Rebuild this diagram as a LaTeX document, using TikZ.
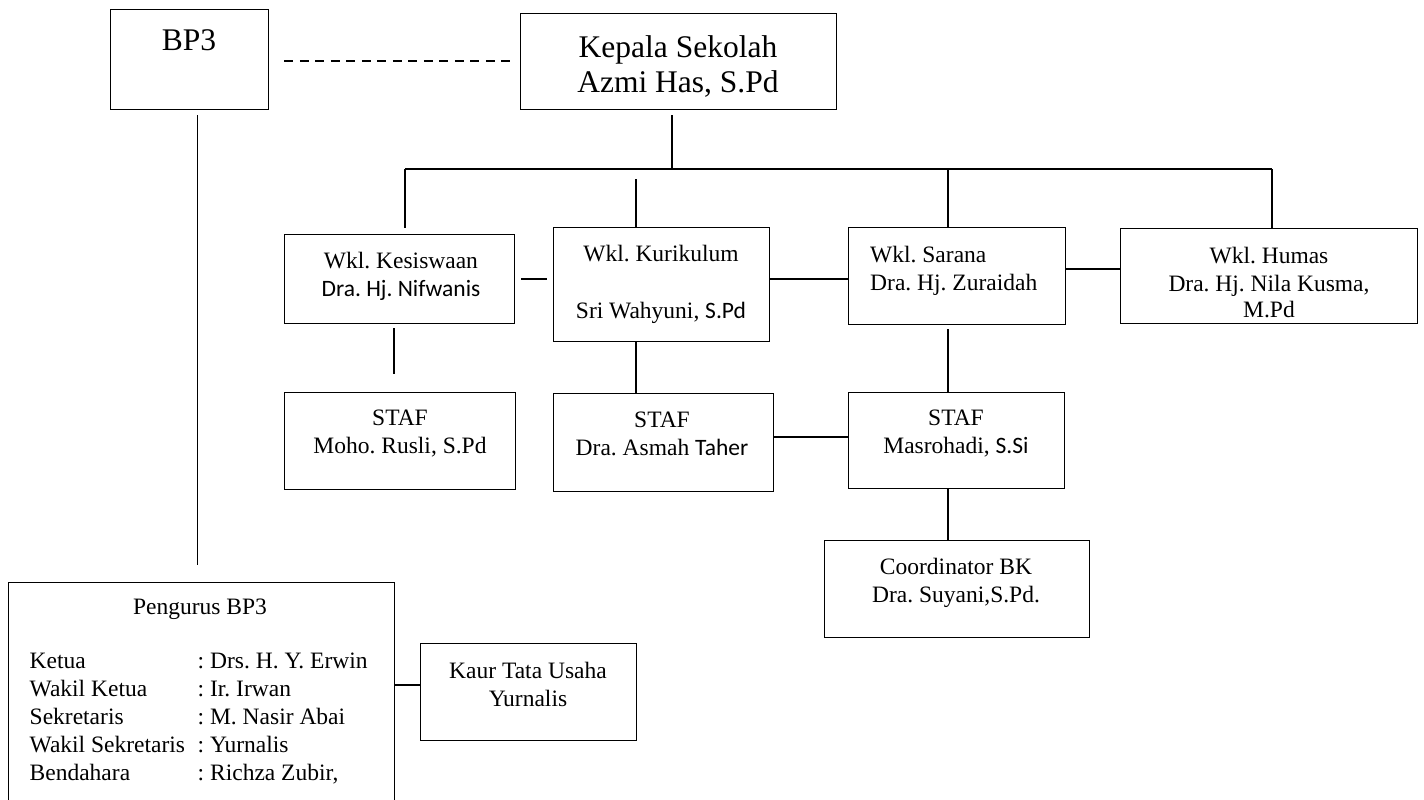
\documentclass[tikz,border=0pt]{standalone}
\usepackage{fontspec}
\setmainfont{Liberation Serif}
\newfontfamily\calfont{Carlito}
\frenchspacing
\begin{document}
\tikzset{
  box/.style={draw, line width=1.4pt, inner sep=0pt, anchor=north west},
  ln/.style={line width=1.4pt},
  dashln/.style={line width=1.4pt, dash pattern=on 9pt off 6.5pt},
  txt/.style={inner sep=0pt, align=center, font=\fontsize{23.5}{28}\selectfont},
  big/.style={inner sep=0pt, align=center, font=\fontsize{31.5}{35}\selectfont},
}
\begin{tikzpicture}[x=1pt,y=-1pt]
\useasboundingbox (0,0) rectangle (1424,800);
\clip (0,0) rectangle (1424,800);
\fill[white] (0,0) rectangle (1424,800);

% boxes
\node[box, minimum width=158pt, minimum height=100pt] (bp3) at (110,9) {};
\node[box, minimum width=316pt, minimum height=96pt] (kepala) at (520,13) {};
\node[box, minimum width=230pt, minimum height=89pt] (kes) at (284,234) {};
\node[box, minimum width=216pt, minimum height=114pt] (kur) at (553,227) {};
\node[box, minimum width=217pt, minimum height=97pt] (sar) at (848,227) {};
\node[box, minimum width=297pt, minimum height=95pt] (hum) at (1120,228) {};
\node[box, minimum width=231pt, minimum height=97pt] (staf1) at (284,392) {};
\node[box, minimum width=220pt, minimum height=98pt] (staf2) at (553,393) {};
\node[box, minimum width=216pt, minimum height=96pt] (staf3) at (848,392) {};
\node[box, minimum width=265pt, minimum height=97pt] (coord) at (824,540) {};
\node[box, minimum width=216pt, minimum height=97pt] (kaur) at (420,643) {};
\node[box, minimum width=386pt, minimum height=248pt] (peng) at (8,582) {};

% texts
\node[big] (t-bp3) at (189,40) {BP3};
\node[big] (t-kepala) at (678,66) {Kepala Sekolah\\Azmi Has, S.Pd};
\node[txt] (t-kes) at (401,276) {Wkl. Kesiswaan\\{\calfont Dra. Hj. Nifwanis}};
\node[txt] (t-kur) at (661,284) {Wkl. Kurikulum\\[1pt]\strut\\Sri Wahyuni, {\calfont S.Pd}};
\node[txt, align=left, anchor=west] (t-sar) at (870,271) {Wkl. Sarana\\Dra. Hj. Zuraidah};
\node[txt] (t-hum) at (1269,283) {Wkl. Humas\\Dra. Hj. Nila Kusma,\\[-2pt]M.Pd};
\node[txt] (t-staf1) at (400,434) {STAF\\Moho. Rusli, S.Pd};
\node[txt] (t-staf2) at (662,434) {STAF\\Dra. Asmah {\calfont Taher}};
\node[txt] (t-staf3) at (956,434) {STAF\\Masrohadi, {\calfont S.Si}};
\node[txt] (t-coord) at (956,583) {Coordinator BK\\Dra. Suyani,S.Pd.};
\node[txt] (t-kaur) at (528,684) {Kaur Tata Usaha\\Yurnalis};
\node[txt] (t-peng) at (200,609) {Pengurus BP3};
\node[txt, align=left, anchor=west] (t-pengtab) at (29.5,719) {%
\makebox[168pt][l]{Ketua}: Drs. H. Y. Erwin\\
\makebox[168pt][l]{Wakil Ketua}: Ir. Irwan\\
\makebox[168pt][l]{Sekretaris}: M. Nasir Abai\\
\makebox[168pt][l]{Wakil Sekretaris}: Yurnalis\\
\makebox[168pt][l]{Bendahara}: Richza Zubir,};

% junction coordinates
\coordinate (jk) at (672,169);
\coordinate (hl) at (405,169);
\coordinate (hk) at (636,169);
\coordinate (hs) at (948,169);
\coordinate (hr) at (1272,169);
\coordinate (r1) at (0,279);
\coordinate (r2) at (0,269);
\coordinate (r3) at (0,437);
\coordinate (r4) at (0,685);
\coordinate (d1) at (394,0);
\coordinate (db) at (197.5,0);

% connectors
\draw[dashln, shorten <=15pt, shorten >=6pt] (bp3.east |- 0,61) -- (kepala.west |- 0,61);
\draw[ln, shorten <=5pt] (kepala.south -| jk) -- (jk);
\draw[ln] (hl) -- (hr);
\draw[ln, shorten >=6pt] (hl) -- (hl |- kes.north);
\draw[ln, shorten <=10pt] (hk) -- (hk |- kur.north);
\draw[ln] (hs) -- (hs |- sar.north);
\draw[ln] (hr) -- (hr |- hum.north);
\draw[ln, shorten <=6pt, shorten >=6pt] (kes.east |- r1) -- (kur.west |- r1);
\draw[ln] (kur.east |- r1) -- (sar.west |- r1);
\draw[ln] (sar.east |- r2) -- (hum.west |- r2);
\draw[ln, shorten <=4pt, shorten >=18pt] (kes.south -| d1) -- (staf1.north -| d1);
\draw[ln] (kur.south -| hk) -- (staf2.north -| hk);
\draw[ln, shorten <=4pt] (sar.south -| hs) -- (staf3.north -| hs);
\draw[ln] (staf2.east |- r3) -- (staf3.west |- r3);
\draw[ln] (staf3.south -| hs) -- (coord.north -| hs);
\draw[ln, shorten <=5pt, shorten >=17pt] (bp3.south -| db) -- (peng.north -| db);
\draw[ln] (peng.east |- r4) -- (kaur.west |- r4);
\end{tikzpicture}
\end{document}
